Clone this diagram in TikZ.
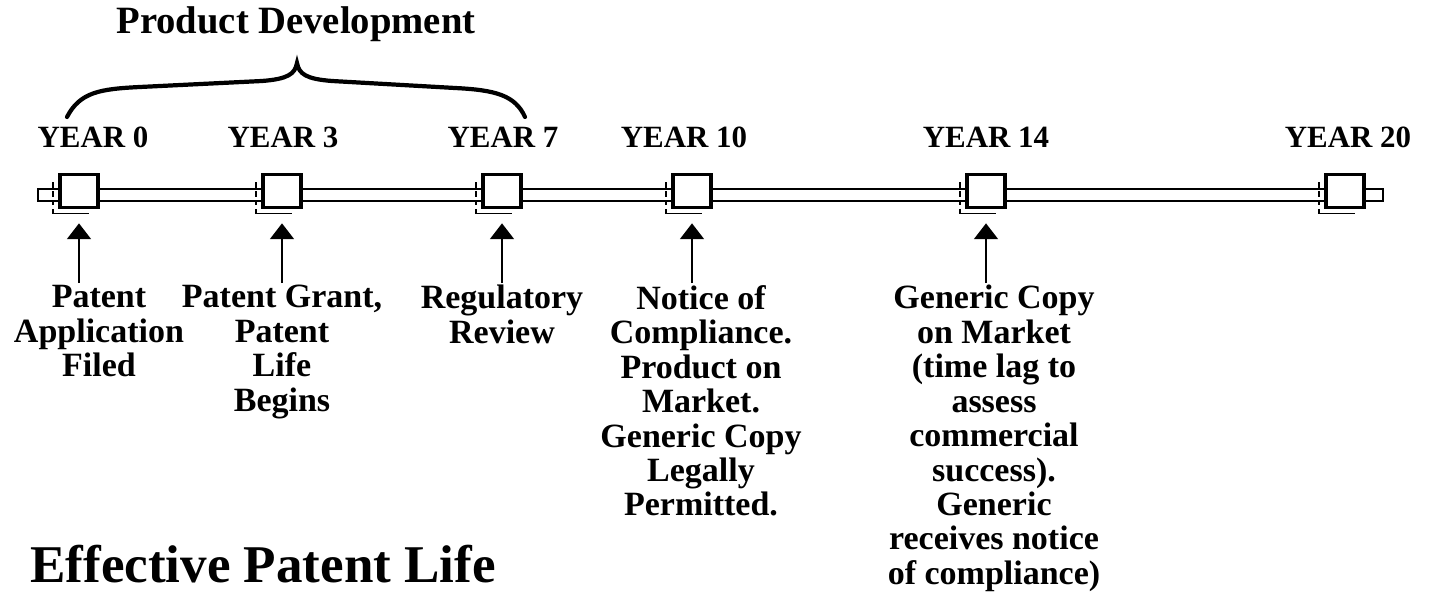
\documentclass[tikz,border=0pt]{standalone}
\usepackage{fontspec}
\setmainfont{Liberation Serif}
\usetikzlibrary{arrows.meta,calc}

\tikzset{
  yearbox/.style={draw, line width=1.8pt, fill=white, minimum width=21.6pt,
    minimum height=18.8pt, inner sep=0pt, outer sep=0pt},
  yearlabel/.style={anchor=base, inner sep=0pt,
    font=\bfseries\fontsize{17.6pt}{20pt}\selectfont},
  eventlabel/.style={anchor=north, align=center, inner sep=0pt,
    font=\bfseries\fontsize{19.35pt}{19.6pt}\selectfont},
  uparrow/.style={-{Triangle[width=13.5pt,length=9pt]}, line width=1.4pt,
    shorten >=9pt, shorten <=1pt},
  barline/.style={line width=1.6pt},
  shadowline/.style={line width=0.8pt},
}

\begin{document}
\begin{tikzpicture}[x=0.02cm, y=-0.02cm]
    \useasboundingbox (0,0) rectangle (1432,597);

    % Zeitachse (Doppellinie mit Endstuecken)
    \draw[barline] (38,189) rectangle (1383,201);

    % Kaestchen fuer die Jahre
    \foreach \n/\x in {0/79, 3/282, 7/502, 10/692, 14/986, 20/1345}
        \node[yearbox] (b\n) at (\x,191) {};

    % Schatten links und unten
    \foreach \n in {0,3,7,10,14,20} {
        \draw[shadowline, densely dashed] ($(b\n.north west)+(-7,8)$) -- ($(b\n.south west)+(-7,6)$);
        \draw[shadowline] ($(b\n.south west)+(-7,6)$) -- ($(b\n.south east)+(-9,6)$);
    }

    % Jahreszahlen
    \foreach \n/\x in {0/93, 3/283, 7/503, 10/684, 14/986, 20/1348}
        \node[yearlabel] (y\n) at (\x,148) {YEAR \n};

    % Klammer
    \node[anchor=base, inner sep=0pt, font=\bfseries\fontsize{22pt}{26pt}\selectfont]
        (dev) at (296,34) {Product Development};
    \draw[line width=2.4pt, line cap=round]
        (67,117) .. controls (80,92) and (100,89) .. (140,87)
        -- (262,81) .. controls (288,79) and (295,74) .. (297,63)
        .. controls (299,74) and (306,79) .. (332,81)
        -- (455,88) .. controls (495,90) and (515,95) .. (525,117);

    % Ereignisse
    \node[eventlabel] (l0) at (99,285) {Patent\\Application\\Filed};
    \node[eventlabel] (l3) at (282,285) {Patent Grant,\\Patent\\Life\\Begins};
    \node[eventlabel] (l7) at (502,285) {Regulatory\\Review};
    \node[eventlabel] (l10) at (701,285) {Notice of\\Compliance.\\Product on\\Market.\\Generic Copy\\Legally\\Permitted.};
    \node[eventlabel] (l14) at (994,285) {Generic Copy\\on Market\\(time lag to\\assess\\commercial\\success).\\Generic\\receives notice\\of compliance)};

    % Pfeile
    \foreach \n in {0,3,7,10,14}
        \draw[uparrow] (b\n.south |- l\n.north) -- (b\n.south);

    \node[anchor=base west, inner sep=0pt, font=\bfseries\fontsize{30.2pt}{36pt}\selectfont]
        (title) at (30,582) {Effective Patent Life};
\end{tikzpicture}
\end{document}
